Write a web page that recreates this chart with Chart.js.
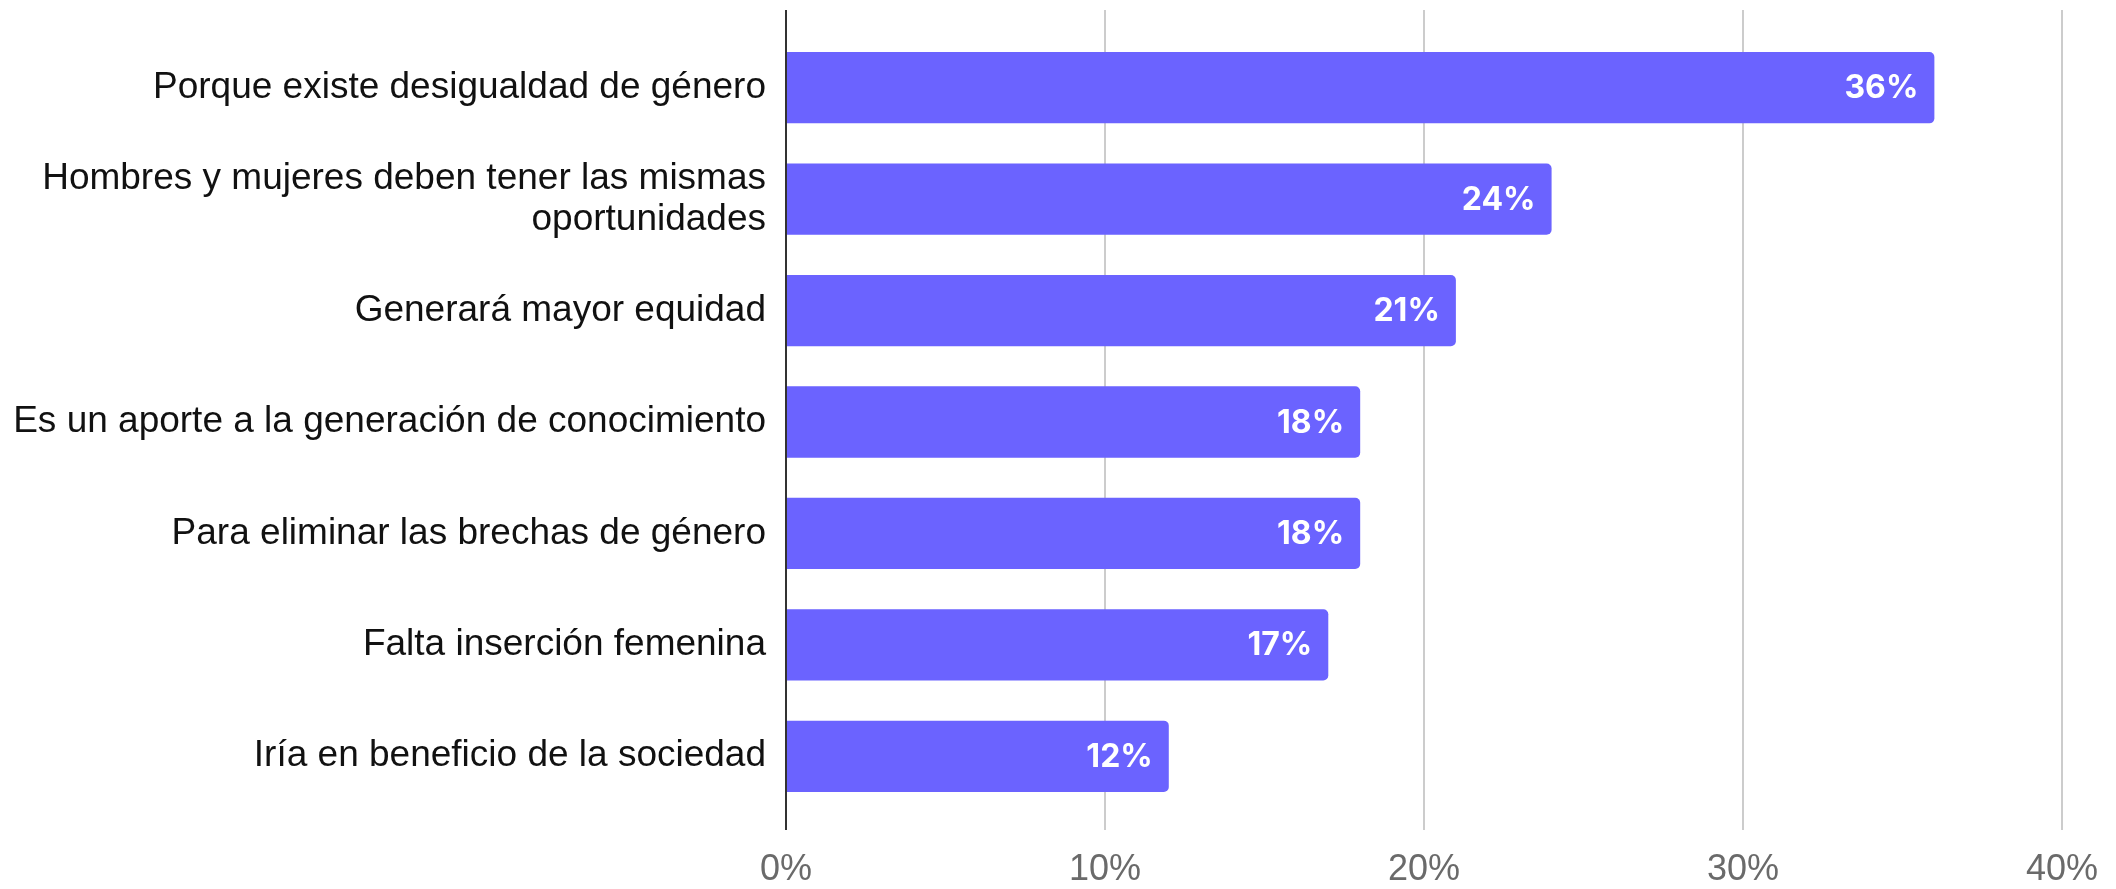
<!DOCTYPE html>
<html>
<head>
<meta charset="utf-8">
<script src="https://cdn.jsdelivr.net/npm/chart.js@4"></script>
<style>
  html, body { margin: 0; padding: 0; background: #fff; }
  #wrap { width: 2116px; height: 889px; }
</style>
</head>
<body>
<div id="wrap"><canvas id="reasonsChart" width="2116" height="889"></canvas></div>
<script>
const categories = [
  'Porque existe desigualdad de género',
  ['Hombres y mujeres deben tener las mismas', 'oportunidades'],
  'Generará mayor equidad',
  'Es un aporte a la generación de conocimiento',
  'Para eliminar las brechas de género',
  'Falta inserción femenina',
  'Iría en beneficio de la sociedad'
];
const percents = [36, 24, 21, 18, 18, 17, 12];
const tickValues = [0, 10, 20, 30, 40];

// white value labels at the inner end of each bar
const valueLabels = {
  id: 'valueLabels',
  afterDatasetsDraw(chart) {
    const ctx = chart.ctx;
    const meta = chart.getDatasetMeta(0);
    ctx.save();
    ctx.fillStyle = '#ffffff';
    ctx.font = '700 32px Inter';
    ctx.textAlign = 'right';
    ctx.textBaseline = 'middle';
    meta.data.forEach((bar, i) => {
      ctx.fillText(percents[i] + '%', bar.x - 16, bar.y + 1);
    });
    ctx.restore();
  }
};

const gridColor = c => (c.tick && c.tick.value === 0) ? '#333333' : '#cccccc';

new Chart(document.getElementById('reasonsChart').getContext('2d'), {
  type: 'bar',
  data: {
    labels: categories,
    datasets: [{
      data: percents,
      backgroundColor: '#6b63ff',
      borderRadius: { topRight: 5, bottomRight: 5, topLeft: 0, bottomLeft: 0 },
      borderSkipped: 'start',
      barPercentage: 0.64,
      categoryPercentage: 1
    }]
  },
  options: {
    indexAxis: 'y',
    responsive: false,
    animation: false,
    layout: { padding: { top: 10, right: 53, bottom: 0, left: 0 } },
    plugins: { legend: { display: false }, tooltip: { enabled: false } },
    scales: {
      x: {
        position: 'bottom',
        min: 0,
        max: 40,
        afterBuildTicks: s => { s.ticks = tickValues.map(v => ({ value: v })); },
        afterFit: s => { s.height = 77; },
        grid: { color: gridColor, lineWidth: 2, drawTicks: true, tickLength: 18 },
        border: { display: false },
        ticks: {
          padding: 18,
          color: '#6a6a6a',
          font: { family: 'Liberation Sans', size: 36 },
          callback: v => v + '%'
        }
      },
      x2: {
        position: 'top',
        axis: 'x',
        min: 0,
        max: 40,
        afterBuildTicks: s => { s.ticks = tickValues.map(v => ({ value: v })); },
        afterFit: s => { s.height = 22; },
        grid: { color: gridColor, lineWidth: 2, drawTicks: true, tickLength: 22 },
        border: { display: false },
        ticks: { display: false }
      },
      y: {
        afterFit: s => { s.width = 786; s.paddingTop = 0; s.paddingBottom = 0; },
        grid: { display: false, drawTicks: false },
        border: { display: false },
        ticks: {
          padding: 20,
          color: '#111111',
          font: { family: 'Liberation Sans', size: 37, lineHeight: 1.1 }
        }
      }
    }
  },
  plugins: [valueLabels]
});
</script>
</body>
</html>
